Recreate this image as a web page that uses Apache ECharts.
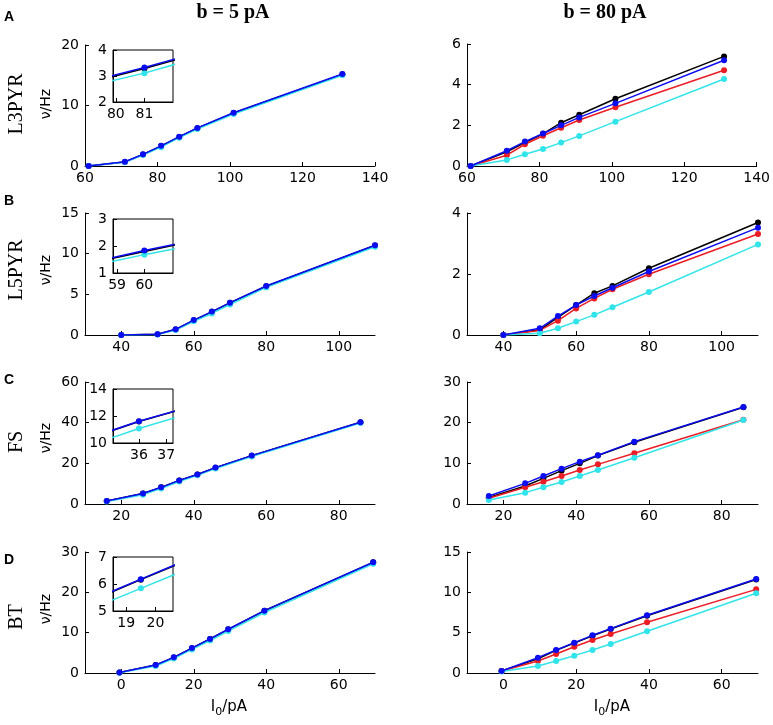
<!DOCTYPE html>
<html>
<head>
<meta charset="utf-8">
<script src="https://cdn.jsdelivr.net/npm/echarts@6/dist/echarts.min.js"></script>
<style>
  html, body { margin: 0; padding: 0; background: #fff; }
  #chart { width: 773px; height: 725px; }
</style>
</head>
<body>
<div id="chart"></div>
<script>
// input currents I0 (pA) for each cell type
var xA = [61, 71, 76, 81, 86, 91, 101, 131];
var xB = [40, 50, 55, 60, 65, 70, 80, 110];
var xC = [16, 26, 31, 36, 41, 46, 56, 86];
var xD = [-0.5, 9.5, 14.5, 19.5, 24.5, 29.5, 39.5, 69.5];

// b = 5 pA (left column) - red curve sits under the blue one, not visible
var blackA5 = [0, 0.68, 1.9, 3.29, 4.8, 6.26, 8.76, 15.15];
var cyanA5 = [0, 0.6, 1.82, 3.11, 4.68, 6.1, 8.6, 15.0];
var blueA5 = [0, 0.7, 1.93, 3.33, 4.85, 6.3, 8.8, 15.2];

var blackB5 = [0, 0.1, 0.68, 1.8, 2.85, 3.95, 6.0, 11.0];
var cyanB5 = [0, 0.05, 0.6, 1.68, 2.65, 3.75, 5.85, 10.85];
var blueB5 = [0, 0.1, 0.7, 1.83, 2.88, 3.98, 6.03, 11.03];

var blackC5 = [1.5, 5.18, 8.18, 11.59, 14.48, 17.88, 23.78, 40.18];
var cyanC5 = [1.2, 4.6, 7.6, 11.07, 14.1, 17.4, 23.3, 39.8];
var blueC5 = [1.5, 5.2, 8.2, 11.61, 14.5, 17.9, 23.8, 40.2];

var blackD5 = [0.1, 1.96, 3.86, 6.16, 8.43, 10.83, 15.43, 27.43];
var cyanD5 = [0.05, 1.75, 3.6, 5.84, 8.05, 10.4, 15.0, 27.1];
var blueD5 = [0.1, 1.98, 3.88, 6.18, 8.45, 10.85, 15.45, 27.45];

// b = 80 pA (right column)
var blackA80 = [0, 0.7, 1.15, 1.58, 2.13, 2.52, 3.31, 5.39];
var redA80 = [0, 0.53, 1.07, 1.49, 1.88, 2.26, 2.89, 4.71];
var cyanA80 = [0, 0.3, 0.58, 0.84, 1.15, 1.48, 2.18, 4.28];
var blueA80 = [0, 0.75, 1.2, 1.6, 2.0, 2.39, 3.08, 5.2];

var blackB80 = [0, 0.17, 0.58, 0.98, 1.37, 1.61, 2.19, 3.69];
var redB80 = [0, 0.15, 0.47, 0.87, 1.2, 1.5, 1.99, 3.31];
var cyanB80 = [0, 0.06, 0.22, 0.44, 0.66, 0.91, 1.41, 2.97];
var blueB80 = [0, 0.22, 0.62, 0.98, 1.28, 1.55, 2.08, 3.52];

var blackC80 = [1.6, 4.43, 6.3, 8.2, 10.0, 11.9, 15.2, 23.8];
var redC80 = [1.4, 4.1, 5.49, 6.88, 8.36, 9.75, 12.46, 20.73];
var cyanC80 = [0.98, 2.79, 4.1, 5.41, 6.88, 8.36, 11.39, 20.65];
var blueC80 = [1.97, 5.08, 6.88, 8.69, 10.41, 11.97, 15.33, 23.85];

var blackD80 = [0.25, 1.75, 2.8, 3.7, 4.6, 5.45, 7.1, 11.6];
var redD80 = [0.25, 1.49, 2.36, 3.26, 4.09, 4.83, 6.28, 10.37];
var cyanD80 = [0.2, 0.87, 1.49, 2.15, 2.85, 3.6, 5.17, 9.88];
var blueD80 = [0.25, 1.9, 2.85, 3.76, 4.67, 5.5, 7.15, 11.65];

// axis ticks
var xTicksA = [60, 80, 100, 120, 140];
var xTicksB = [40, 60, 80, 100];
var xTicksC = [20, 40, 60, 80];
var xTicksD = [0, 20, 40, 60];
var insetTicksA = [80, 81];
var insetTicksB = [59, 60];
var insetTicksC = [36, 37];
var insetTicksD = [19, 20];

var COLORS = { black: '#000000', red: '#ec1c24', cyan: '#30e4ea', blue: '#0c0cf0' };
var TICKFONT = 'DejaVu Sans';

var grids = [];
var xAxes = [];
var yAxes = [];
var series = [];

// data: list of [colorName, values]
function addPanel(g, x, ticks, xmin, xmax, ymin, ymax, yint, data, inset) {
  var gi = grids.length;
  grids.push({
    left: g[0], top: g[1], width: g[2], height: g[3],
    show: !!inset, borderColor: '#000', borderWidth: 1,
    backgroundColor: inset ? '#fff' : 'transparent',
    z: inset ? 10 : 0
  });
  xAxes.push({
    gridIndex: gi, type: 'value', min: xmin, max: xmax,
    axisLine: { show: true, onZero: false, lineStyle: { color: '#000', width: 1 } },
    axisTick: { show: true, inside: true, length: 4, customValues: ticks, lineStyle: { color: '#000' } },
    axisLabel: { color: '#000', fontSize: 14, fontFamily: TICKFONT, margin: 5, customValues: ticks },
    splitLine: { show: false },
    z: inset ? 12 : 2
  });
  yAxes.push({
    gridIndex: gi, type: 'value', min: ymin, max: ymax, interval: yint,
    axisLine: { show: true, onZero: false, lineStyle: { color: '#000', width: 1 } },
    axisTick: { show: true, inside: true, length: 4, lineStyle: { color: '#000' } },
    axisLabel: { color: '#000', fontSize: 14, fontFamily: TICKFONT, margin: 6 },
    splitLine: { show: false },
    z: inset ? 12 : 2
  });
  data.forEach(function (d, k) {
    var ys = d[1];
    series.push({
      type: 'line',
      xAxisIndex: gi, yAxisIndex: gi,
      data: x.map(function (v, i) { return [v, ys[i]]; }),
      symbol: 'circle', symbolSize: 6,
      showAllSymbol: true,
      clip: true,
      lineStyle: { color: COLORS[d[0]], width: 1.5 },
      itemStyle: { color: COLORS[d[0]] },
      z: inset ? 13 + k : 3 + k,
      silent: true,
      animation: false
    });
  });
}

var L = [85, 290], R = [467, 291];
// row A
addPanel([L[0], 45, L[1], 121], xA, xTicksA, 60, 140, 0, 20, 10, [['black', blackA5], ['cyan', cyanA5], ['blue', blueA5]]);
addPanel([R[0], 44, R[1], 122], xA, xTicksA, 60, 140, 0, 6, 2, [['black', blackA80], ['red', redA80], ['cyan', cyanA80], ['blue', blueA80]]);
// row B
addPanel([L[0], 213, L[1], 122], xB, xTicksB, 30, 110, 0, 15, 5, [['black', blackB5], ['cyan', cyanB5], ['blue', blueB5]]);
addPanel([R[0], 213, R[1], 122], xB, xTicksB, 30, 110, 0, 4, 2, [['black', blackB80], ['red', redB80], ['cyan', cyanB80], ['blue', blueB80]]);
// row C
addPanel([L[0], 382, L[1], 122], xC, xTicksC, 10, 90, 0, 60, 20, [['black', blackC5], ['cyan', cyanC5], ['blue', blueC5]]);
addPanel([R[0], 382, R[1], 122], xC, xTicksC, 10, 90, 0, 30, 10, [['black', blackC80], ['red', redC80], ['cyan', cyanC80], ['blue', blueC80]]);
// row D
addPanel([L[0], 552, L[1], 121], xD, xTicksD, -10, 70, 0, 30, 10, [['black', blackD5], ['cyan', cyanD5], ['blue', blueD5]]);
addPanel([R[0], 552, R[1], 121], xD, xTicksD, -10, 70, 0, 15, 5, [['black', blackD80], ['red', redD80], ['cyan', cyanD80], ['blue', blueD80]]);

// insets (zoom on the b = 5 pA curves)
addPanel([113, 50, 60, 52], xA, insetTicksA, 79.9, 82, 2, 4, 1, [['black', blackA5], ['cyan', cyanA5], ['blue', blueA5]], true);
addPanel([113, 219, 60, 54], xB, insetTicksB, 58.85, 61.05, 1, 3, 1, [['black', blackB5], ['cyan', cyanB5], ['blue', blueB5]], true);
addPanel([113, 389, 60, 54], xC, insetTicksC, 35.05, 37.25, 10, 14, 2, [['black', blackC5], ['cyan', cyanC5], ['blue', blueC5]], true);
addPanel([113, 557, 60, 54], xD, insetTicksD, 18.55, 20.6, 5, 7, 1, [['black', blackD5], ['cyan', cyanD5], ['blue', blueD5]], true);

function txt(x, y, s, font, rot) {
  return {
    type: 'text', x: x, y: y, rotation: rot || 0, silent: true,
    style: { text: s, font: font, fill: '#000', textAlign: 'center', textVerticalAlign: 'middle', align: 'center', verticalAlign: 'middle' }
  };
}

var graphics = [
  txt(233, 13, 'b = 5 pA', 'bold 20px "Liberation Serif"'),
  txt(605, 13, 'b = 80 pA', 'bold 20px "Liberation Serif"'),
  txt(9, 17, 'A', 'bold 14px "Liberation Sans"'),
  txt(9, 201, 'B', 'bold 14px "Liberation Sans"'),
  txt(9, 380, 'C', 'bold 14px "Liberation Sans"'),
  txt(9, 560, 'D', 'bold 14px "Liberation Sans"'),
  txt(17, 104, 'L3PYR', '20px "Liberation Serif"', Math.PI / 2),
  txt(17, 270, 'L5PYR', '20px "Liberation Serif"', Math.PI / 2),
  txt(17, 442, 'FS', '20px "Liberation Serif"', Math.PI / 2),
  txt(17, 617, 'BT', '20px "Liberation Serif"', Math.PI / 2),
  txt(46, 104, 'ν/Hz', '14px "DejaVu Sans"', Math.PI / 2),
  txt(46, 270, 'ν/Hz', '14px "DejaVu Sans"', Math.PI / 2),
  txt(46, 438, 'ν/Hz', '14px "DejaVu Sans"', Math.PI / 2),
  txt(46, 609, 'ν/Hz', '14px "DejaVu Sans"', Math.PI / 2)
];

[229, 612].forEach(function (cx) {
  graphics.push({
    type: 'text', x: cx, y: 707, silent: true,
    style: {
      text: '{n|I}{s|0}{n|/pA}', fill: '#000',
      textAlign: 'center', textVerticalAlign: 'middle', align: 'center', verticalAlign: 'middle',
      rich: {
        n: { fontSize: 15, fontFamily: TICKFONT, lineHeight: 22, color: '#000' },
        s: { fontSize: 11, fontFamily: TICKFONT, lineHeight: 11, verticalAlign: 'bottom', color: '#000' }
      }
    }
  });
});

var chart = echarts.init(document.getElementById('chart'));
chart.setOption({
  backgroundColor: '#fff',
  animation: false,
  grid: grids,
  xAxis: xAxes,
  yAxis: yAxes,
  series: series,
  graphic: graphics
});
</script>
</body>
</html>
